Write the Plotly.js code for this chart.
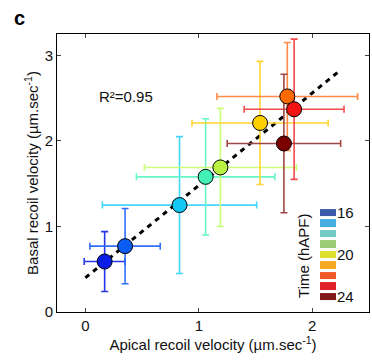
<!DOCTYPE html>
<html>
<head>
<meta charset="utf-8">
<script src="https://cdn.plot.ly/plotly-3.0.1.min.js"></script>
<style>html,body{margin:0;padding:0;background:#fff;}#chart{width:372px;height:361px;}</style>
</head>
<body>
<div id="chart"></div>
<script>
// Data
const apical = [0.17, 0.35, 0.83, 1.06, 1.19, 1.54, 1.78, 1.84, 1.75];
const basal = [0.59, 0.77, 1.25, 1.58, 1.69, 2.21, 2.52, 2.37, 1.97];
const apicalErr = [0.18, 0.31, 0.68, 0.61, 0.67, 0.60, 0.62, 0.44, 0.50];
const basalErr = [0.35, 0.44, 0.80, 0.68, 0.69, 0.72, 0.63, 0.82, 0.81];
const markerColors = ['#0a1ee6', '#0a5cf2', '#12c8f2', '#44f2b8', '#baf244', '#ffd000', '#ff6a00', '#f41212', '#7a0000'];
const barColors = ['#2636e8', '#3070f6', '#44d6ff', '#66f6c8', '#ccff78', '#ffd430', '#ff8a48', '#f04a4a', '#a04646'];
const fitX = [0, 2.25];
const fitY = [0.40, 2.83];
const legendColors = ['#3a5ca8', '#48aee2', '#74cac4', '#9ccc74', '#dde02c', '#f8aa22', '#f05a2a', '#e0202a', '#801818'];
const legendIdx = [0, 1, 2, 3, 4, 5, 6, 7, 8];
const legendTickVals = [0, 4, 8];
const legendTickText = ['16', '20', '24'];
const xTicks = [0, 1, 2];
const yTicks = [0, 1, 2, 3];

const FONT = 'Liberation Sans, Arial, Helvetica, sans-serif';
const traces = [];

traces.push({
  x: fitX, y: fitY, mode: 'lines', type: 'scatter',
  line: {color: '#000', width: 3, dash: '5px,5px'},
  hoverinfo: 'skip', showlegend: false
});

for (let i = 0; i < apical.length; i++) {
  traces.push({
    x: [apical[i]], y: [basal[i]], mode: 'markers', type: 'scatter',
    marker: {size: 1, color: 'rgba(0,0,0,0)'},
    error_x: {type: 'data', array: [apicalErr[i]], color: barColors[i], thickness: 1.6, width: 3.5},
    error_y: {type: 'data', array: [basalErr[i]], color: barColors[i], thickness: 1.6, width: 3.5},
    showlegend: false
  });
}

traces.push({
  x: apical, y: basal, mode: 'markers', type: 'scatter',
  marker: {size: 15, color: markerColors, line: {color: '#000', width: 1}},
  showlegend: false
});

const n = legendColors.length - 1;
traces.push({
  type: 'heatmap', xaxis: 'x2', yaxis: 'y2',
  x: [0], y: legendIdx, z: legendIdx.map(v => [v]),
  zmin: 0, zmax: n,
  colorscale: legendColors.map((c, i) => [i / n, c]),
  showscale: false, ygap: 3, hoverinfo: 'skip'
});

const layout = {
  width: 372, height: 361,
  margin: {l: 57, r: 3, t: 34, b: 49},
  paper_bgcolor: '#fff', plot_bgcolor: '#fff',
  font: {family: FONT, size: 14, color: '#111'},
  showlegend: false,
  xaxis: {
    range: [-0.25, 2.5], tickvals: xTicks, ticks: 'inside', ticklen: 4,
    showline: true, linecolor: '#000', linewidth: 1, mirror: 'ticks',
    showgrid: false, zeroline: false, tickfont: {size: 15},
    title: {text: 'Apical recoil velocity (µm.sec<sup>-1</sup>)', font: {size: 15}, standoff: 3}
  },
  yaxis: {
    range: [0, 3.25], tickvals: yTicks, ticks: 'inside', ticklen: 4,
    showline: true, linecolor: '#000', linewidth: 1, mirror: 'ticks',
    showgrid: false, zeroline: false, tickfont: {size: 15},
    title: {text: 'Basal recoil velocity (µm.sec<sup>-1</sup>)', font: {size: 15}, standoff: 2}
  },
  xaxis2: {
    domain: [0.843, 0.894], anchor: 'y2', showticklabels: false, ticks: '',
    showgrid: false, zeroline: false, showline: false, fixedrange: true
  },
  yaxis2: {
    domain: [0.036, 0.374], anchor: 'x2', side: 'right', range: [8.5, -0.5],
    tickvals: legendTickVals, ticktext: legendTickText, ticks: '',
    showgrid: false, zeroline: false, showline: false, tickfont: {size: 15}
  },
  annotations: [
    {xref: 'x', yref: 'y', x: 0.36, y: 2.52, text: 'R²=0.95', showarrow: false, font: {size: 15},
     xanchor: 'center', yanchor: 'middle'},
    {xref: 'paper', yref: 'paper', x: 0.788, y: 0.201, text: 'Time (hAPF)', textangle: -90, showarrow: false,
     font: {size: 15}, xanchor: 'center', yanchor: 'middle'},
    {xref: 'paper', yref: 'paper', x: -0.12, y: 1.056, text: '<b>c</b>', showarrow: false,
     font: {size: 20, color: '#000'}, xanchor: 'center', yanchor: 'middle'}
  ]
};

Plotly.newPlot('chart', traces, layout, {displayModeBar: false, staticPlot: true});
</script>
</body>
</html>
